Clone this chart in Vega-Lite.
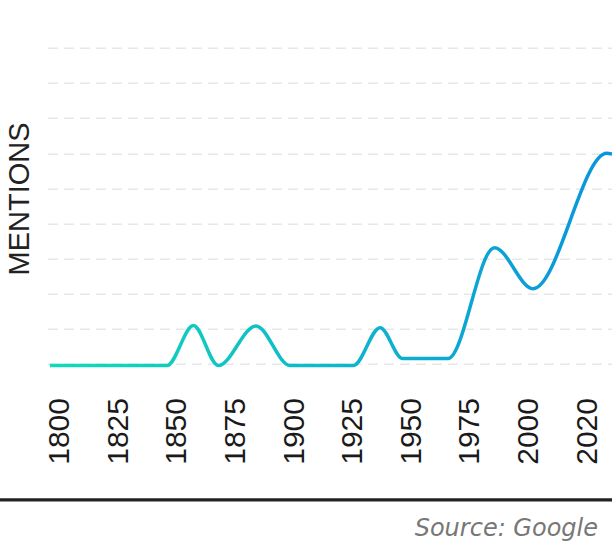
{
  "$schema": "https://vega.github.io/schema/vega-lite/v6.json",
  "width": 564.5,
  "height": 324.7,
  "autosize": {"type": "none"},
  "padding": {"left": 47.5, "top": 40.8, "right": 0, "bottom": 178.5},
  "background": "white",
  "config": {"view": {"stroke": null}},
  "title": {
    "text": "Source: Google",
    "orient": "bottom",
    "anchor": "end",
    "frame": "group",
    "offset": 16,
    "dx": -14,
    "font": "DejaVu Sans",
    "fontSize": 24,
    "fontStyle": "italic",
    "fontWeight": "normal",
    "color": "#777777"
  },
  "layer": [
    {
      "data": {
        "values": [
          {"year": 1800, "mentions": 0},
          {"year": 1850, "mentions": 0},
          {"year": 1861.3, "mentions": 11.4},
          {"year": 1871.9, "mentions": 0},
          {"year": 1888.0, "mentions": 11.3},
          {"year": 1902.5, "mentions": 0},
          {"year": 1929.6, "mentions": 0},
          {"year": 1941.0, "mentions": 10.8},
          {"year": 1950.5, "mentions": 2.0},
          {"year": 1970, "mentions": 2.0},
          {"year": 1989.8, "mentions": 33.6},
          {"year": 2006.3, "mentions": 21.9},
          {"year": 2037.8, "mentions": 60.5},
          {"year": 2040, "mentions": 60.3}
        ]
      },
      "mark": {
        "type": "line",
        "interpolate": "monotone",
        "strokeWidth": 3.5,
        "color": {
          "gradient": "linear",
          "x1": 0, "y1": 0, "x2": 1, "y2": 0,
          "stops": [
            {"offset": 0, "color": "#12dbb8"},
            {"offset": 1, "color": "#0a94dc"}
          ]
        }
      },
      "encoding": {
        "x": {
          "field": "year",
          "type": "quantitative",
          "scale": {"domain": [1799, 2040], "nice": false, "zero": false},
          "axis": {
            "title": null,
            "values": [1800, 1825, 1850, 1875, 1900, 1925, 1950, 1975, 2000, 2020],
            "tickCount": 20,
            "format": "d",
            "labelAngle": -90,
            "labelFont": "Liberation Sans",
            "labelFontSize": 30,
            "labelColor": "#1a1a1a",
            "labelPadding": 32,
            "labelOffset": {"condition": {"test": "datum.value == 2020", "value": 22}, "value": 10},
            "domain": false,
            "ticks": false,
            "tickSize": 0,
            "grid": false,
            "labelOverlap": false,
            "labelBound": false,
            "labelFlush": false
          }
        },
        "y": {
          "field": "mentions",
          "type": "quantitative",
          "scale": {"domain": [0, 92.6], "nice": false, "zero": false},
          "axis": {
            "title": "MENTIONS",
            "values": [0.5, 10.5, 20.5, 30.5, 40.5, 50.5, 60.5, 70.5, 80.5, 90.5],
            "tickCount": 20,
            "labels": false,
            "ticks": false,
            "domain": false,
            "grid": true,
            "gridColor": "#e5e7eb",
            "gridDash": [10, 6],
            "gridWidth": 1.5,
            "titleFont": "Liberation Sans",
            "titleFontSize": 29,
            "titleFontWeight": "normal",
            "titleColor": "#222222",
            "titlePadding": 13,
            "titleY": 157.6
          }
        }
      }
    },
    {
      "data": {"values": [{}]},
      "mark": {"type": "rule", "color": "#222222", "strokeWidth": 3.3},
      "encoding": {
        "x": {"datum": 1778.7, "type": "quantitative"},
        "x2": {"datum": 2040},
        "y": {"datum": -38.3, "type": "quantitative"}
      }
    }
  ]
}
